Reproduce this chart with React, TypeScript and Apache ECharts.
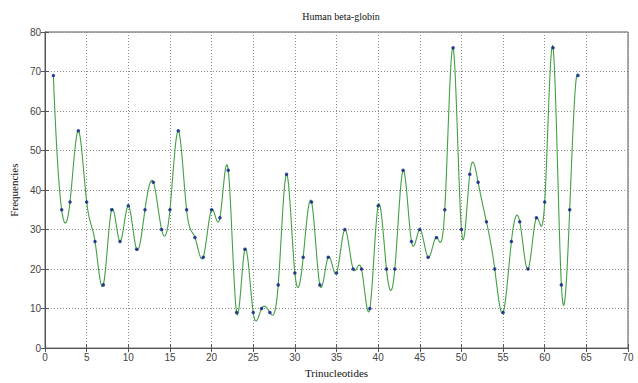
import React, { useEffect, useRef } from "react";
import * as echarts from "echarts";

const titleText = "Human beta-globin";
const xName = "Trinucleotides";
const yName = "Frequencies";

const positions = Array.from({ length: 64 }, (_, i) => i + 1);
const frequencies = [
  69, 35, 37, 55, 37, 27, 16, 35, 27, 36,
  25, 35, 42, 30, 35, 55, 35, 28, 23, 35,
  33, 45, 9, 25, 9, 10, 9, 16, 44, 19,
  23, 37, 16, 23, 19, 30, 20, 20, 10, 36,
  20, 20, 45, 27, 30, 23, 28, 35, 76, 30,
  44, 42, 32, 20, 9, 27, 32, 20, 33, 37,
  76, 16, 35, 69,
];

// Not-a-knot cubic spline second derivatives (uniform unit spacing), used only for drawing the curve
function splineSecondDerivs(y: number[]): number[] {
  const n = y.length - 1;
  const m = new Array(n + 1).fill(0);
  const k = n - 1;
  const a: number[] = [], b: number[] = [], c: number[] = [], d: number[] = [];
  for (let i = 1; i <= n - 1; i++) {
    const rhs = 6 * (y[i + 1] - 2 * y[i] + y[i - 1]);
    if (i === 1 || i === n - 1) { a.push(0); b.push(6); c.push(0); d.push(rhs); }
    else { a.push(1); b.push(4); c.push(1); d.push(rhs); }
  }
  for (let i = 1; i < k; i++) {
    const w = a[i] / b[i - 1];
    b[i] -= w * c[i - 1];
    d[i] -= w * d[i - 1];
  }
  const sol = new Array(k).fill(0);
  sol[k - 1] = d[k - 1] / b[k - 1];
  for (let i = k - 2; i >= 0; i--) sol[i] = (d[i] - c[i] * sol[i + 1]) / b[i];
  for (let i = 1; i <= n - 1; i++) m[i] = sol[i - 1];
  m[0] = 2 * m[1] - m[2];
  m[n] = 2 * m[n - 1] - m[n - 2];
  return m;
}

const M = splineSecondDerivs(frequencies);

export default function App() {
  const ref = useRef<HTMLDivElement>(null);
  useEffect(() => {
    if (!ref.current) return;
    const chart = echarts.init(ref.current, undefined, { renderer: "svg" });
    const font = "Liberation Serif";
    const tickFont = "Liberation Sans";
    const axisColor = "#555";
    const gridLine = { show: true, lineStyle: { color: "#8c8c8c", type: [1, 2] as any, width: 1 } };
    const pts = positions.map((x, i) => [x, frequencies[i]]);
    chart.setOption({
      animation: false,
      backgroundColor: "#fff",
      title: {
        text: titleText,
        left: 336,
        textAlign: "center",
        top: 6,
        textStyle: { fontFamily: font, fontSize: 10, fontWeight: "normal", color: "#111" },
      },
      grid: { left: 44, right: 10, top: 32, bottom: 33, show: true, borderColor: axisColor, borderWidth: 1, backgroundColor: "#fff" },
      xAxis: [
        {
          type: "value", min: 0, max: 70, interval: 5,
          name: xName, nameLocation: "middle", nameGap: 17,
          nameTextStyle: { fontFamily: font, fontSize: 11, color: "#111" },
          axisLine: { show: true, lineStyle: { color: axisColor } },
          axisTick: { show: true, inside: true, length: 4, lineStyle: { color: axisColor } },
          axisLabel: { fontFamily: tickFont, fontSize: 10, color: "#444", margin: 4 },
          splitLine: gridLine,
        },
        {
          type: "value", min: 0, max: 70, interval: 5, position: "top",
          axisLine: { show: true, lineStyle: { color: axisColor } },
          axisTick: { show: true, inside: true, length: 4, lineStyle: { color: axisColor } },
          axisLabel: { show: false }, splitLine: { show: false },
        },
      ],
      yAxis: [
        {
          type: "value", min: 0, max: 80, interval: 10,
          name: yName, nameLocation: "middle", nameGap: 26,
          nameTextStyle: { fontFamily: font, fontSize: 11, color: "#111" },
          axisLine: { show: true, lineStyle: { color: axisColor } },
          axisTick: { show: true, inside: true, length: 4, lineStyle: { color: axisColor } },
          axisLabel: { fontFamily: tickFont, fontSize: 10, color: "#444", margin: 4 },
          splitLine: gridLine,
        },
        {
          type: "value", min: 0, max: 80, interval: 10, position: "right",
          axisLine: { show: true, lineStyle: { color: axisColor } },
          axisTick: { show: true, inside: true, length: 4, lineStyle: { color: axisColor } },
          axisLabel: { show: false }, splitLine: { show: false },
        },
      ],
      series: [
        {
          type: "custom",
          clip: true,
          data: pts,
          z: 2,
          renderItem: (params: any, api: any) => {
            const i = params.dataIndex;
            if (i >= frequencies.length - 1) return null;
            const y0 = frequencies[i], y1 = frequencies[i + 1];
            const x0 = positions[i];
            const points: number[][] = [];
            const steps = 16;
            for (let s = 0; s <= steps; s++) {
              const t = s / steps;
              const u = 1 - t;
              const v = u * y0 + t * y1 + ((u * u * u - u) * M[i] + (t * t * t - t) * M[i + 1]) / 6;
              points.push(api.coord([x0 + t, v]));
            }
            return {
              type: "polyline",
              shape: { points },
              style: { stroke: "#44a044", lineWidth: 1.1, fill: "none" },
            };
          },
        },
        {
          type: "scatter",
          data: pts,
          symbol: "circle",
          symbolSize: 3.5,
          itemStyle: { color: "#0a1a8a" },
          z: 3,
        },
      ],
    });
    return () => chart.dispose();
  }, []);
  return <div ref={ref} style={{ position: "absolute", left: 0, top: 0, width: 638, height: 383 }} />;
}
